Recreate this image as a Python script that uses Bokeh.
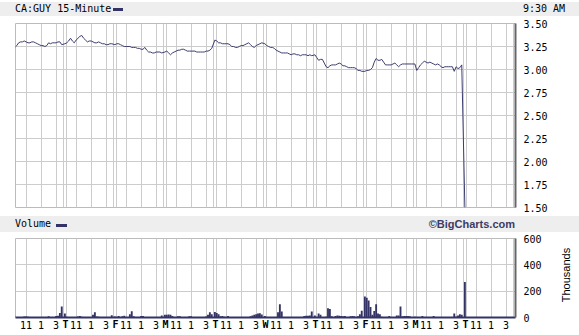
from bokeh.plotting import figure
from bokeh.models import ColumnDataSource, FixedTicker, Div, LinearAxis
from bokeh.layouts import column, row
from bokeh.embed import file_html
from bokeh.resources import INLINE

# ---------------- data ----------------
symbol_title = "CA:GUY 15-Minute"
last_time = "9:30 AM"
volume_title = "Volume"
credit = "\u00a9BigCharts.com"
volume_unit = "Thousands"

day_letters = ["W", "T", "F", "M", "T", "W", "T", "F", "M", "T"]
hour_labels = ["11", "1", "3"]
hour_minutes = [90, 210, 330]          # minutes after 9:30 for 11:00, 1:00, 3:00
bar_minutes = 15
session_minutes = 390
day_span = 400                          # chart units per day slot
open_offset = -5

price_ticks = [1.50, 1.75, 2.00, 2.25, 2.50, 2.75, 3.00, 3.25, 3.50]
volume_ticks = [0, 200, 400, 600]

price_days = [
    [3.24, 3.26, 3.29, 3.30, 3.30, 3.31, 3.30, 3.29, 3.29, 3.30, 3.30, 3.29, 3.28,
     3.27, 3.26, 3.26, 3.25, 3.26, 3.29, 3.28, 3.29, 3.29, 3.29, 3.30, 3.30, 3.27],
    [3.28, 3.29, 3.31, 3.34, 3.31, 3.29, 3.32, 3.34, 3.36, 3.37, 3.34, 3.32, 3.30,
     3.31, 3.31, 3.30, 3.29, 3.29, 3.30, 3.29, 3.28, 3.28, 3.27, 3.27, 3.28, 3.28],
    [3.27, 3.28, 3.28, 3.27, 3.26, 3.25, 3.25, 3.25, 3.25, 3.24, 3.24, 3.24, 3.23,
     3.23, 3.22, 3.22, 3.24, 3.21, 3.19, 3.19, 3.18, 3.18, 3.19, 3.19, 3.19, 3.18],
    [3.19, 3.20, 3.18, 3.16, 3.18, 3.19, 3.20, 3.21, 3.21, 3.22, 3.22, 3.21, 3.20,
     3.20, 3.20, 3.20, 3.20, 3.19, 3.19, 3.19, 3.19, 3.19, 3.20, 3.20, 3.21, 3.23],
    [3.32, 3.31, 3.29, 3.29, 3.28, 3.28, 3.28, 3.28, 3.27, 3.25, 3.25, 3.24, 3.24,
     3.25, 3.26, 3.26, 3.27, 3.28, 3.29, 3.27, 3.25, 3.24, 3.26, 3.27, 3.28, 3.29],
    [3.28, 3.26, 3.25, 3.24, 3.24, 3.23, 3.21, 3.20, 3.19, 3.18, 3.18, 3.18, 3.18,
     3.17, 3.16, 3.17, 3.17, 3.16, 3.16, 3.15, 3.16, 3.16, 3.16, 3.15, 3.16, 3.15],
    [3.16, 3.13, 3.10, 3.11, 3.11, 3.07, 3.03, 3.02, 3.04, 3.05, 3.05, 3.05, 3.06,
     3.07, 3.06, 3.04, 3.04, 3.03, 3.02, 3.02, 3.02, 3.02, 3.01, 2.99, 2.99, 2.98],
    [2.98, 2.99, 2.99, 3.00, 3.02, 3.08, 3.12, 3.10, 3.10, 3.11, 3.08, 3.05, 3.05,
     3.05, 3.05, 3.06, 3.07, 3.05, 3.03, 3.05, 3.06, 3.06, 3.06, 3.06, 3.06, 3.06],
    [3.06, 2.99, 3.02, 3.05, 3.07, 3.09, 3.08, 3.07, 3.08, 3.07, 3.06, 3.05, 3.06,
     3.05, 3.03, 3.02, 3.03, 3.03, 3.03, 3.03, 3.03, 2.98, 3.03, 3.01, 3.02, 3.05],
    [1.50],
]

volume_days = [
    [15, 4, 3, 3, 3, 8, 8, 6, 2, 2, 1, 2, 2, 2, 2, 2, 2, 2, 10, 2, 2, 3, 12, 14, 35, 84],
    [30, 6, 3, 3, 3, 3, 3, 8, 12, 6, 2, 2, 2, 2, 2, 20, 40, 8, 5, 3, 3, 3, 2, 2, 3, 18],
    [8, 3, 12, 3, 10, 14, 4, 3, 25, 48, 10, 3, 3, 2, 12, 12, 3, 2, 2, 2, 2, 2, 2, 2, 3, 15],
    [20, 20, 22, 20, 12, 4, 3, 10, 10, 2, 2, 2, 2, 10, 10, 2, 2, 2, 2, 2, 2, 3, 8, 20, 40, 25],
    [42, 35, 25, 10, 12, 5, 3, 12, 3, 2, 2, 2, 2, 2, 2, 2, 2, 2, 2, 10, 15, 20, 25, 30, 32, 22],
    [12, 4, 3, 3, 3, 3, 3, 40, 100, 45, 2, 2, 2, 2, 2, 2, 2, 2, 2, 2, 3, 12, 14, 14, 15, 46],
    [15, 3, 30, 20, 3, 3, 5, 70, 65, 10, 3, 12, 15, 14, 12, 10, 12, 3, 2, 10, 12, 10, 3, 10, 25, 52],
    [160, 150, 130, 80, 20, 50, 100, 30, 25, 5, 3, 3, 3, 12, 3, 3, 3, 15, 15, 84, 10, 12, 12, 12, 10, 3],
    [5, 3, 3, 3, 12, 3, 3, 3, 3, 3, 12, 3, 3, 3, 3, 3, 3, 3, 3, 3, 3, 30, 5, 15, 25, 20],
    [270],
]

# ---------------- build sources ----------------
xs, prices, vols = [], [], []
for d, (pday, vday) in enumerate(zip(price_days, volume_days)):
    for i, (pv, vv) in enumerate(zip(pday, vday)):
        xs.append(d * day_span + open_offset + i * bar_minutes)
        prices.append(pv)
        vols.append(vv)
src = ColumnDataSource(dict(x=xs, price=prices, vol=vols))

n_days = len(day_letters)
x_end = n_days * day_span

grid_x = []
label_x = []
label_over = {}
for d in range(n_days):
    base = d * day_span + open_offset
    if d > 0:
        grid_x.append(base + 10)
    grid_x.append(base + session_minutes)
    for hm, hl in zip(hour_minutes, hour_labels):
        grid_x.append(base + hm)
        label_x.append(base + hm)
        label_over[base + hm] = hl

letter_x = [d * day_span for d in range(1, n_days)]
letter_over = {d * day_span: day_letters[d] for d in range(1, n_days)}

NAVY = "#333366"
LINE = "#3d3d70"
GRID = "#cccccc"
MONO = "DejaVu Sans Mono"

# ---------------- header bars ----------------
top_div = Div(
    width=579, height=16, margin=0,
    text=(
        '<div style="position:relative;width:579px;height:16px;">'
        '<div style="position:absolute;left:0;top:2px;width:579px;height:14px;background:#eeeeee;"></div>'
        f'<span style="position:absolute;left:15px;top:2px;line-height:14px;font-family:\'{MONO}\';font-size:10px;color:#000;white-space:nowrap;">{symbol_title}</span>'
        f'<span style="position:absolute;left:113px;top:8px;width:10px;height:3px;background:{NAVY};"></span>'
        f'<span style="position:absolute;left:523px;top:2px;line-height:14px;font-family:\'{MONO}\';font-size:10px;color:#000;white-space:nowrap;">{last_time}</span>'
        '</div>'
    ),
)

vol_div = Div(
    width=579, height=16, margin=0,
    text=(
        '<div style="position:relative;width:579px;height:16px;background:#eeeeee;">'
        f'<span style="position:absolute;left:15px;top:1px;line-height:14px;font-family:\'{MONO}\';font-size:10px;color:#000;white-space:nowrap;">{volume_title}</span>'
        f'<span style="position:absolute;left:56px;top:8px;width:11px;height:3px;background:{NAVY};"></span>'
        f'<span style="position:absolute;right:64px;top:1px;line-height:14px;font-family:\'Liberation Sans\';font-weight:bold;font-size:11px;color:#3c3c64;white-space:nowrap;">{credit}</span>'
        '</div>'
    ),
)

unit_div = Div(
    width=24, height=103, margin=0,
    text=(
        '<div style="position:relative;width:24px;height:103px;">'
        f'<span style="position:absolute;left:12px;top:43px;transform:translate(-50%,-50%) rotate(-90deg);'
        f'font-family:\'Liberation Sans\';font-size:11px;color:#000;white-space:nowrap;">{volume_unit}</span>'
        '</div>'
    ),
)


def style_yaxis(ax):
    ax.major_tick_line_color = None
    ax.minor_tick_line_color = None
    ax.major_tick_out = 0
    ax.major_label_standoff = 8
    ax.axis_line_color = "#666666"
    ax.axis_line_width = 2
    ax.major_label_text_font = MONO
    ax.major_label_text_font_size = "10px"
    ax.major_label_text_color = "#000000"


# ---------------- price figure ----------------
p1 = figure(width=579, height=200, output_backend="svg", toolbar_location=None,
            x_range=(0, x_end), y_range=(price_ticks[0], price_ticks[-1]),
            x_axis_location=None, y_axis_location="right",
            min_border_left=15, min_border_right=64, min_border_top=7, min_border_bottom=9)
p1.line("x", "price", source=src, color=LINE, line_width=1)
p1.outline_line_color = "#bbbbbb"
p1.outline_line_width = 1
p1.xgrid.ticker = FixedTicker(ticks=grid_x)
p1.ygrid.ticker = FixedTicker(ticks=price_ticks)
for g in (p1.xgrid, p1.ygrid):
    g.grid_line_color = GRID
    g.grid_line_width = 1
ya = p1.yaxis[0]
ya.ticker = FixedTicker(ticks=price_ticks)
ya.major_label_overrides = {t: f"{t:.2f}" for t in price_ticks}
style_yaxis(ya)

# ---------------- volume figure ----------------
p2 = figure(width=555, height=103, output_backend="svg", toolbar_location=None,
            x_range=p1.x_range, y_range=(volume_ticks[0], volume_ticks[-1]),
            y_axis_location="right",
            min_border_left=15, min_border_right=40, min_border_top=6, min_border_bottom=18)
p2.vbar(x="x", top="vol", width=bar_minutes, source=src, fill_color=NAVY, line_color=None)
p2.outline_line_color = "#bbbbbb"
p2.outline_line_width = 1
p2.xgrid.ticker = FixedTicker(ticks=grid_x)
p2.ygrid.ticker = FixedTicker(ticks=volume_ticks)
for g in (p2.xgrid, p2.ygrid):
    g.grid_line_color = GRID
    g.grid_line_width = 1
ya2 = p2.yaxis[0]
ya2.ticker = FixedTicker(ticks=volume_ticks)
style_yaxis(ya2)

xa = p2.xaxis[0]
xa.ticker = FixedTicker(ticks=label_x)
xa.major_label_overrides = label_over
xa.major_tick_line_color = None
xa.minor_tick_line_color = None
xa.major_tick_out = 0
xa.major_label_standoff = 3
xa.axis_line_color = NAVY
xa.axis_line_width = 2
xa.major_label_text_font = MONO
xa.major_label_text_font_size = "10px"
xa.major_label_text_color = "#000000"

# second axis carrying the bold day letters, pulled back onto the same row
xa_days = LinearAxis(ticker=FixedTicker(ticks=letter_x), major_label_overrides=letter_over)
xa_days.axis_line_color = None
xa_days.major_tick_line_color = None
xa_days.minor_tick_line_color = None
xa_days.major_tick_out = 0
xa_days.major_label_standoff = -13
xa_days.major_label_text_font = MONO
xa_days.major_label_text_font_size = "10px"
xa_days.major_label_text_font_style = "bold"
xa_days.major_label_text_color = "#000000"
p2.add_layout(xa_days, "below")

layout = column(top_div, p1, vol_div, row(p2, unit_div, spacing=0), spacing=0)
open("out.html", "w").write(file_html(layout, INLINE))
